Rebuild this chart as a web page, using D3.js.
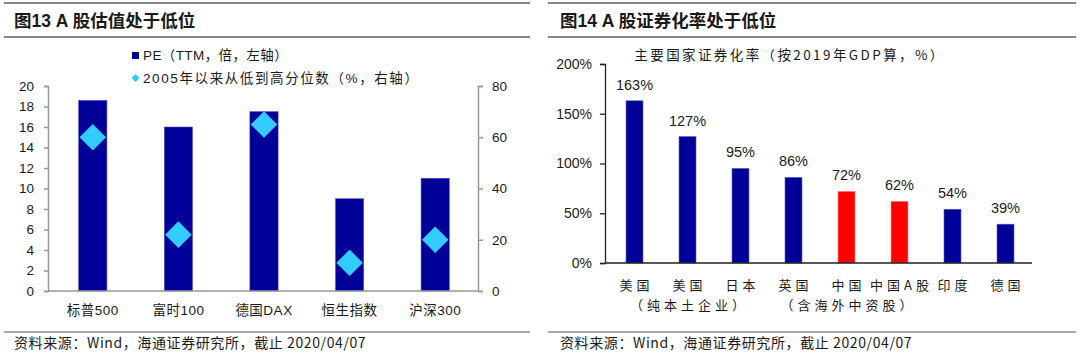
<!DOCTYPE html>
<html><head><meta charset="utf-8">
<script src="https://cdn.jsdelivr.net/npm/d3@7"></script>
<style>
body{margin:0;background:#fff;}
svg text{font-family:"Liberation Sans","Noto Sans CJK SC",sans-serif;fill:#1a1a1a;}
</style></head>
<body><svg id="c" width="1080" height="358"></svg>
<script>
// ---- Chart 1 data ----
const idxNames = ["标普500","富时100","德国DAX","恒生指数","沪深300"];
const peValues = [18.6, 16.0, 17.5, 9.0, 11.0];
const pctValues = [60, 22, 65, 11, 20];
const leftTicks = [0,2,4,6,8,10,12,14,16,18,20];
const rightTicks = [0,20,40,60,80];
// ---- Chart 2 data ----
const countries = ["美国","美国","日本","英国","中国","中国A股","印度","德国"];
const subLabels = ["","（纯本土企业）","","","（含海外中资股）","","",""];
const secRates = [163,127,95,86,72,62,54,39];
const highlight = [false,false,false,false,true,true,false,false];
const pctTicks = [0,50,100,150,200];

const svg = d3.select("#c");
const cjk = '"Noto Sans CJK SC","Liberation Sans",sans-serif';

function frame(x0,x1,title,tx){
  svg.append("line").attr("x1",x0).attr("x2",x1).attr("y1",3).attr("y2",3).attr("stroke","#888").attr("stroke-width",2);
  svg.append("line").attr("x1",x0).attr("x2",x1).attr("y1",37).attr("y2",37).attr("stroke","#888").attr("stroke-width",2);
  svg.append("line").attr("x1",x0).attr("x2",x1).attr("y1",332).attr("y2",332).attr("stroke","#555").attr("stroke-width",1);
  svg.append("text").attr("x",tx).attr("y",27).attr("font-size",17.5).attr("font-weight","bold").text(title);
  svg.append("text").attr("x",tx).attr("y",348).attr("font-size",14).attr("letter-spacing",0.6).style("font-family",cjk).text("资料来源：Wind，海通证券研究所，截止 2020/04/07");
}
frame(4,530,"图13 A 股估值处于低位",14);
frame(548,1076,"图14 A 股证券化率处于低位",560);

// ---- Chart 1 ----
const x1 = d3.scaleBand().domain(idxNames).range([50,478]).paddingInner(0.67).paddingOuter(0.335);
const yL = d3.scaleLinear().domain([0,20]).range([291,86]);
const yR = d3.scaleLinear().domain([0,80]).range([291,86]);
const g1 = svg.append("g");
g1.selectAll("rect.pe").data(peValues).join("rect")
  .attr("x",(d,i)=>x1(idxNames[i])).attr("width",x1.bandwidth())
  .attr("y",d=>yL(d)).attr("height",d=>yL(0)-yL(d))
  .attr("fill","#000099").attr("stroke","#5555bb").attr("stroke-width",0.6);
const diamond = d3.symbol().type(d3.symbolDiamond2).size(450);
g1.selectAll("path.pct").data(pctValues).join("path")
  .attr("transform",(d,i)=>`translate(${x1(idxNames[i])+x1.bandwidth()/2},${yR(d)})`)
  .attr("d",diamond).attr("fill","#33CCFF");
const axL = g1.append("g").attr("transform","translate(48,0)")
  .call(d3.axisLeft(yL).tickValues(leftTicks).tickSize(4).tickSizeOuter(4).tickPadding(10));
const axR = g1.append("g").attr("transform","translate(478,0)")
  .call(d3.axisRight(yR).tickValues(rightTicks).tickSize(5).tickSizeOuter(5).tickPadding(9));
const axB = g1.append("g").attr("transform","translate(0,291)")
  .call(d3.axisBottom(x1).tickSize(0).tickPadding(14));
axB.select(".domain").attr("d","M48,0H478");
[axL,axR,axB].forEach(a=>{a.selectAll("path,line").attr("stroke","#999").attr("stroke-width",1.5);
  a.selectAll("text").attr("font-size",13.5).attr("fill","#1a1a1a").style("font-family",'"Liberation Sans","Noto Sans CJK SC",sans-serif');});
axB.selectAll("text").attr("fill","#333").attr("letter-spacing",0.5);
// legend
g1.append("rect").attr("x",132).attr("y",52).attr("width",7).attr("height",7).attr("fill","#000099");
g1.append("text").attr("x",143).attr("y",60).attr("font-size",13.5).attr("letter-spacing",0.4).text("PE（TTM，倍，左轴）");
g1.append("path").attr("transform","translate(135.5,78)").attr("d",d3.symbol().type(d3.symbolDiamond2).size(40)).attr("fill","#33CCFF");
g1.append("text").attr("x",143).attr("y",83).attr("font-size",13.5).attr("letter-spacing",1.6).text("2005年以来从低到高分位数（%，右轴）");

// ---- Chart 2 ----
const x2 = d3.scaleBand().domain(d3.range(countries.length)).range([608,1032]).paddingInner(0.68).paddingOuter(0.34);
const y2 = d3.scaleLinear().domain([0,200]).range([263,64]);
const g2 = svg.append("g");
g2.selectAll("rect").data(secRates).join("rect")
  .attr("x",(d,i)=>x2(i)).attr("width",x2.bandwidth())
  .attr("y",d=>y2(d)).attr("height",d=>y2(0)-y2(d))
  .attr("fill",(d,i)=>highlight[i]?"#FF0000":"#000099")
  .attr("stroke",(d,i)=>highlight[i]?"#ff8888":"#5555bb").attr("stroke-width",0.6);
g2.selectAll("text.val").data(secRates).join("text")
  .attr("x",(d,i)=>x2(i)+x2.bandwidth()/2).attr("y",d=>y2(d)-11)
  .attr("text-anchor","middle").attr("font-size",14.5).text(d=>d+"%");
const ay2 = g2.append("g").attr("transform","translate(605,0)")
  .call(d3.axisLeft(y2).tickValues(pctTicks).tickFormat(d=>d+"%").tickSize(5).tickSizeOuter(5).tickPadding(8));
ay2.selectAll("path,line").attr("stroke","#222").attr("stroke-width",1.3);
ay2.selectAll("text").attr("font-size",14).attr("fill","#1a1a1a").style("font-family",'"Liberation Sans",sans-serif');
g2.append("line").attr("x1",605).attr("x2",1032).attr("y1",263).attr("y2",263).attr("stroke","#222").attr("stroke-width",1.5);
g2.selectAll("text.cat").data(countries).join("text")
  .attr("x",(d,i)=>x2(i)+x2.bandwidth()/2+2).attr("y",290)
  .attr("text-anchor","middle").attr("font-size",13).attr("letter-spacing",4).attr("fill","#333")
  .style("font-family",cjk).text(d=>d);
g2.selectAll("text.sub").data(subLabels).join("text")
  .attr("x",(d,i)=>x2(i)+x2.bandwidth()/2+2).attr("y",310)
  .attr("text-anchor","middle").attr("font-size",13).attr("letter-spacing",4).attr("fill","#333")
  .style("font-family",cjk).text(d=>d);
g2.append("text").attr("x",790).attr("y",60).attr("text-anchor","middle").attr("font-size",13.5).attr("letter-spacing",2.4)
  .attr("fill","#333").style("font-family",cjk).text("主要国家证券化率（按2019年GDP算，%）");
</script></body></html>
